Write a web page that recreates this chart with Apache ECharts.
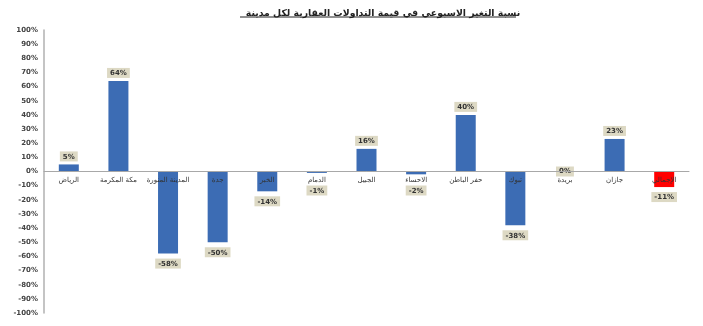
<!DOCTYPE html>
<html><head><meta charset="utf-8">
<script src="https://cdn.jsdelivr.net/npm/echarts@6/dist/echarts.min.js"></script>
<style>html,body{margin:0;padding:0;background:#fff}#c{width:703px;height:326px}</style>
</head><body><div id="c"></div>
<script>
const titleText = 'نسبة التغير الاسبوعي في قيمة التداولات العقارية لكل مدينة';
const categories = ['الرياض','مكة المكرمة','المدينة المنورة','جدة','الخبر','الدمام','الجبيل','الاحساء','حفر الباطن','تبوك','بريدة','جازان','الإجمالي'];
const values = [5, 64, -58, -50, -14, -1, 16, -2, 40, -38, 0, 23, -11];
const barColors = ['#3c6cb4','#3c6cb4','#3c6cb4','#3c6cb4','#3c6cb4','#3c6cb4','#3c6cb4','#3c6cb4','#3c6cb4','#3c6cb4','#3c6cb4','#3c6cb4','#ff0000'];
const yTicks = [-100,-90,-80,-70,-60,-50,-40,-30,-20,-10,0,10,20,30,40,50,60,70,80,90,100];

const gridTop = 30, gridBottom = 13, H = 326;
const pxPerUnit = (H - gridTop - gridBottom) / 200;
const chart = echarts.init(document.getElementById('c'));
const data = values.map((v,i)=>({
  value: v,
  itemStyle: {color: barColors[i]},
  label: v > 0 ? {position: 'top', distance: 3}
       : v < 0 ? {position: 'bottom', distance: Math.max(5, 14 - Math.abs(v) * pxPerUnit)}
       : {position: 'inside'}
}));
chart.setOption({
  animation: false,
  title: {
    text: titleText, left: 378, top: 4, textAlign: 'center',
    textStyle: {fontFamily: 'DejaVu Sans', fontSize: 9.3, fontWeight: 'bold', color: '#222'}
  },
  grid: {left: 44, right: 14, top: gridTop, bottom: gridBottom, containLabel: false},
  xAxis: {
    type: 'category', data: categories, z: 5,
    offset: -(H - gridTop - gridBottom) / 2,
    axisLine: {onZero: false, lineStyle: {color: '#a8a8a8', width: 1}},
    axisTick: {show: false},
    axisLabel: {interval: 0, fontFamily: 'DejaVu Sans', fontSize: 7, color: '#333', margin: 5}
  },
  yAxis: {
    type: 'value', min: yTicks[0], max: yTicks[yTicks.length-1], interval: 10,
    splitLine: {show: false},
    axisLine: {show: true, lineStyle: {color: '#b0b0b0', width: 1.5}},
    axisTick: {show: false},
    axisLabel: {fontFamily: 'DejaVu Sans', fontSize: 7, fontWeight: 'bold', color: '#444', margin: 6,
      formatter: v => v + '%'}
  },
  series: [{
    type: 'bar', data: data, barWidth: 20, z: 2,
    label: {
      show: true, formatter: p => p.value + '%',
      fontFamily: 'DejaVu Sans', fontSize: 7, fontWeight: 'bold', color: '#333',
      backgroundColor: '#ddd9c4', padding: [2, 3, 1, 3]
    }
  }],
  graphic: [{
    type: 'line', shape: {x1: 240, y1: 17, x2: 516, y2: 17},
    style: {stroke: '#222', lineWidth: 1}
  }]
});
</script></body></html>
